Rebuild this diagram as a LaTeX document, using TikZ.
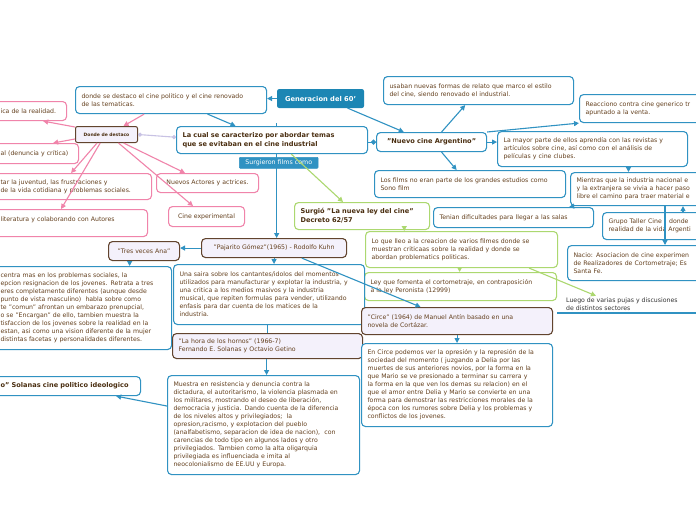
\documentclass[tikz,border=0pt]{standalone}
\usepackage{fontspec}
\setmainfont{DejaVu Sans}
\usetikzlibrary{calc, arrows.meta, backgrounds}
\definecolor{mapblue}{RGB}{48,146,194}
\definecolor{genblue}{RGB}{28,134,180}
\definecolor{mappink}{RGB}{240,132,170}
\definecolor{mapgreen}{RGB}{172,216,112}
\definecolor{mapbrown}{RGB}{98,68,46}
\definecolor{maplilac}{RGB}{244,241,251}
\definecolor{linklilac}{RGB}{200,194,228}
\definecolor{txtbrown}{RGB}{100,64,30}
\definecolor{titlebrown}{RGB}{74,46,16}
\hyphenpenalty=10000
\exhyphenpenalty=10000

\begin{document}
\begin{tikzpicture}[x=1pt, y=-1pt,
        topic/.style={rectangle, rounded corners=4pt, line width=1.1pt, fill=white, anchor=north west, align=left, inner xsep=6pt, inner ysep=2pt, text=txtbrown, font=\fontsize{6.2}{8}\selectfont},
        bluebox/.style={topic, draw=mapblue},
        pinkbox/.style={topic, draw=mappink},
        greenbox/.style={topic, draw=mapgreen},
        brownbox/.style={topic, draw=mapbrown, fill=maplilac},
        titletext/.style={font=\fontsize{6.6}{9}\selectfont\bfseries, text=titlebrown},
        bluelink/.style={draw=mapblue, line width=1.1pt, -{Triangle[length=5pt,width=5pt]}},
        pinklink/.style={draw=mappink, line width=1.1pt, -{Triangle[length=5pt,width=5pt]}},
        greenlink/.style={draw=mapgreen, line width=1.1pt, -{Triangle[length=5pt,width=5pt]}}
    ]
    \useasboundingbox (0,0) rectangle (696,520);
    \clip (0,0) rectangle (696,520);

    % centre and first level
    \node[topic, draw=genblue, fill=genblue, rounded corners=2pt, text=white, font=\fontsize{6.7}{8}\selectfont\bfseries, minimum width=86pt, minimum height=18pt] (gen) at (277,89) {Generacion del 60'};
    \node[bluebox, text width=179pt, minimum height=27pt] (dsd) at (75,86) {donde se destaco el cine politico y el cine renovado\\de las tematicas.};
    \node[bluebox, titletext, text width=179pt, minimum height=27pt] (car) at (176,126) {La cual se caracterizo por abordar temas\\que se evitaban en el cine industrial};
    \node[topic, draw=mapblue, fill=mapblue, rounded corners=1pt, line width=0.6pt, text=white, inner ysep=1pt, minimum width=78pt, minimum height=11pt, font=\fontsize{6.3}{8}\selectfont] (surg) at (239,157) {Surgieron films como};
    \node[bluebox, titletext, minimum width=110pt, minimum height=19pt] (nuevo) at (376,132) {"Nuevo cine Argentino"};

    % nuevo cine argentino
    \node[bluebox, text width=178pt, minimum height=28pt] (usaban) at (383,76) {usaban nuevas formas de relato que marco el estilo\\del cine, siendo renovado el industrial.};
    \node[bluebox, text width=180pt, minimum height=28pt] (reac) at (579,94) {Reacciono contra cine generico tr\\apuntado a la venta.};
    \node[bluebox, text width=178pt, minimum height=35pt] (mayor) at (497,131) {La mayor parte de ellos aprendía con las revistas y\\artículos sobre cine, así como con el análisis de\\películas y cine clubes.};
    \node[bluebox, text width=179pt, minimum height=27pt] (films) at (374,170) {Los films no eran parte de los grandes estudios como\\Sono film};
    \node[bluebox, text width=180pt, minimum height=33pt] (mientras) at (570,172) {Mientras que la industria nacional e\\y la extranjera se vivia a hacer paso\\libre el camino para traer material e};
    \node[bluebox, text width=148pt, minimum height=20pt] (tenian) at (433,207) {Tenian dificultades para llegar a las salas};
    \node[bluebox, text width=180pt, minimum height=27pt] (grupo) at (602,212) {Grupo Taller Cine : donde\\realidad de la vida Argenti};
    \node[bluebox, text width=180pt, minimum height=35pt] (nacio) at (567,245) {Nacio: Asociacion de cine experimen\\de Realizadores de Cortometraje; Es\\Santa Fe.};
    \node[anchor=south west, align=left, inner xsep=9pt, inner ysep=2pt, text=black!80, font=\fontsize{6.2}{8}\selectfont] (luego) at (557,313) {Luego de varias pujas y discusiones\\de distintos sectores};

    % nueva ley del cine
    \node[greenbox, titletext, text width=123pt, minimum height=27pt] (surgio) at (294,202) {Surgió "La nueva ley del cine"\\Decreto 62/57};
    \node[greenbox, text width=180pt, minimum height=36pt] (loque) at (365,231) {Lo que lleo a la creacion de varios filmes donde se\\muestran criticaas sobre la realidad y donde se\\abordan problematics politicas.};
    \node[greenbox, text width=180pt, minimum height=28pt] (leyque) at (364,272) {Ley que fomenta el cortometraje, en contraposición\\a la ley Peronista (12999)};

    % films
    \node[brownbox, minimum width=145pt, minimum height=19pt] (paj) at (201,238) {"Pajarito Gómez"(1965) - Rodolfo Kuhn};
    \node[bluebox, text width=179pt, minimum height=60pt] (saira) at (173,264) {Una saira sobre los cantantes/idolos del momentos\\utilizados para manufacturar y explotar la industria, y\\una critica a los medios masivos y la industria\\musical, que repiten formulas para vender, utilizando\\enfasis para dar cuenta de los matices de la\\industria.};
    \node[brownbox, minimum width=71pt, minimum height=19pt] (tres) at (108,241) {"Tres veces Ana"};
    \node[bluebox, text width=165pt, minimum height=83pt] (centra) at (-6,266) {centra mas en los problemas sociales, la\\epcion resignacion de los jovenes. Retrata a tres\\eres completamente diferentes (aunque desde\\punto de vista masculino)\ \ habla sobre como\\te "comun" afrontan un embarazo prenupcial,\\o se "Encargan" de ello, tambien muestra la\\tisfaccion de los jovenes sobre la realidad en la\\estan, asi como una vision diferente de la mujer\\distintas facetas y personalidades diferentes.};
    \node[brownbox, text width=178pt, minimum height=25pt] (hora) at (172,333) {"La hora de los hornos" (1966-7)\\Fernando E. Solanas y Octavio Getino};
    \node[bluebox, text width=180pt, minimum height=99pt] (muestra) at (167,375) {Muestra en resistencia y denuncia contra la\\dictadura, el autoritarismo, la violencia plasmada en\\los militares, mostrando el deseo de liberación,\\democracia y justicia. Dando cuenta de la diferencia\\de los niveles altos y privilegiados;\ \ la\\opresion,racismo, y explotacion del pueblo\\(analfabetismo, separacion de idea de nacion),\ \ con\\carencias de todo tipo en algunos lados y otro\\privilegiados. Tambien como la alta oligarquia\\privilegiada es influenciada e imita al\\neocolonialismo de EE.UU y Europa.};
    \node[bluebox, titletext, text width=134pt, minimum height=19pt] (solanas) at (-6,376) {o" Solanas cine politico ideologico};
    \node[brownbox, text width=179pt, minimum height=27pt] (circe) at (361,307) {"Circe" (1964) de Manuel Antín basado en una\\novela de Cortázar.};
    \node[bluebox, text width=179pt, minimum height=83pt] (encirce) at (361,343) {En Circe podemos ver la opresión y la represión de la\\sociedad del momento ( juzgando a Delia por las\\muertes de sus anteriores novios, por la forma en la\\que Mario se ve presionado a terminar su carrera y\\la forma en la que ven los demas su relacion) en el\\que el amor entre Delia y Mario se convierte en una\\forma para demostrar las restricciones morales de la\\época con los rumores sobre Delia y los problemas y\\conflictos de los jovenes.};

    % donde de destaco
    \node[brownbox, line width=1pt, rounded corners=2pt, inner sep=1pt, minimum width=62pt, minimum height=16pt, font=\fontsize{4.5}{5}\selectfont\bfseries, text=titlebrown] (dd) at (75,126) {Donde de destaco};
    \node[pinkbox, text width=60pt, minimum height=19pt] (pinka) at (-6,101) {ica de la realidad.};
    \node[pinkbox, text width=72pt, minimum height=20pt] (pinkb) at (-6,143) {al (denuncia y crítica)};
    \node[pinkbox, text width=145pt, minimum height=26pt] (pinkc) at (-6,173) {tar la juventud, las frustraciones y\\de la vida cotidiana y problemas sociales.};
    \node[pinkbox, text width=141pt, minimum height=27pt] (pinkd) at (-6,209) {literatura y colaborando con Autores\\\mbox{}};
    \node[pinkbox, minimum width=102pt, minimum height=19pt] (pinke) at (156,173) {Nuevos Actores y actrices.};
    \node[pinkbox, minimum width=76pt, minimum height=20pt] (pinkf) at (168,206) {Cine experimental};

    % links
    \coordinate (carup) at ($(car.north west)!0.524!(car.north east)+(0,-3)$);
    \begin{scope}[on background layer]
        \fill[white] (0,0) rectangle (696,520);
        \draw[bluelink] (carup) -- (carup |- paj.north);
    \end{scope}
    \draw[bluelink] (gen.west) -- (gen.west -| dsd.east);
    \draw[bluelink] ($(dsd.south west)!0.69!(dsd.south east)$) -- ($(car.north west)!0.31!(car.north east)$);
    \draw[bluelink] ($(gen.south west)!0.81!(gen.south east)$) -- ($(nuevo.north west)!0.25!(nuevo.north east)$);
    \draw[draw=mapblue, line width=1.1pt, -{Circle[length=5pt]}] (car.east |- nuevo.west) -- (nuevo.west);
    \draw[greenlink] ($(car.south west)!0.6!(car.south east)$) -- ($(surgio.north west)!0.36!(surgio.north east)$);

    \draw[bluelink] ($(nuevo.north west)!0.59!(nuevo.north east)$) -- ($(usaban.south west)!0.43!(usaban.south east)$);
    \draw[bluelink] (nuevo.north east) -- (reac.south west);
    \draw[bluelink] (nuevo.east) -- (nuevo.east -| mayor.west);
    \draw[bluelink] ($(nuevo.south west)!0.59!(nuevo.south east)$) -- ($(films.north west)!0.43!(films.north east)$);
    \draw[bluelink] ($(mayor.south west)!0.688!(mayor.south east)$) coordinate (mayordown) -- (mayordown |- mientras.north);
    \draw[bluelink] ($(mientras.south west)+(4,0)$) -- ($(tenian.north east)+(-25,0)$);
    \draw[bluelink] ($(grupo.north west)+(81,0)$) -- ($(mientras.south west)+(113,0)$);
    \draw[bluelink] ($(mientras.south west)+(95,0)$) coordinate (mientrasdown) -- (mientrasdown |- nacio.north);
    \draw[mapblue, line width=1.1pt] (luego.south west) -- ++(145,0);

    \draw[greenlink] ($(surgio.south west)!0.81!(surgio.south east)$) coordinate (surgiodown) -- (surgiodown |- loque.north);
    \draw[greenlink] ($(loque.south west)!0.49!(loque.south east)$) coordinate (loquedown) -- (loquedown |- leyque.north);
    \draw[greenlink] ($(loque.south west)!0.85!(loque.south east)$) -- ($(luego.north west)!0.3!(luego.north east)$);

    \draw[bluelink] (paj.south) -- (paj.south |- saira.north);
    \draw[bluelink] (paj.west) -- (paj.west -| tres.east);
    \draw[bluelink] ($(tres.south west)!0.3!(tres.south east)$) coordinate (tresdown) -- (tresdown |- centra.north);
    \draw[bluelink] ($(paj.south west)!0.69!(paj.south east)$) -- ($(circe.north west)!0.31!(circe.north east)$);
    \draw[mapblue, line width=1.1pt] ($(saira.south west)!0.49!(saira.south east)$) coordinate (sairadown) -- (sairadown |- hora.north);
    \draw[bluelink] ($(hora.south west)!0.495!(hora.south east)$) coordinate (horadown) -- (horadown |- muestra.north);
    \draw[bluelink] ($(muestra.north west)!0.31!(muestra.south west)$) -- ($(solanas.south east)+(-25,0)$);
    \draw[bluelink] (circe.south) -- (circe.south |- encirce.north);

    \draw[pinklink] ($(dsd.south west)!0.36!(dsd.south east)$) -- ($(dd.north west)!0.77!(dd.north east)$);
    \draw[pinklink] ($(dd.north west)+(0,1)$) -- ($(pinka.south east)+(-24,0)$);
    \draw[pinklink] ($(dd.south west)+(0,-4)$) -- ($(pinkb.north east)+(-26,0)$);
    \draw[pinklink] ($(dd.south west)!0.35!(dd.south east)$) -- ($(pinkc.north east)+(-81,0)$);
    \draw[pinklink] ($(dd.south west)!0.4!(dd.south east)$) -- ($(pinkd.north east)+(-87,0)$);
    \draw[pinklink] ($(dd.south west)!0.77!(dd.south east)$) -- ($(pinke.north west)+(29,0)$);
    \draw[pinklink] ($(dd.south west)!0.69!(dd.south east)$) -- ($(pinkf.north west)+(25,0)$);
    \draw[draw=linklilac, line width=1.1pt, {Circle[length=4pt]}-{Circle[length=4pt]}] (dd.east) -- ($(car.north west)!0.4!(car.south west)$);
\end{tikzpicture}
\end{document}
